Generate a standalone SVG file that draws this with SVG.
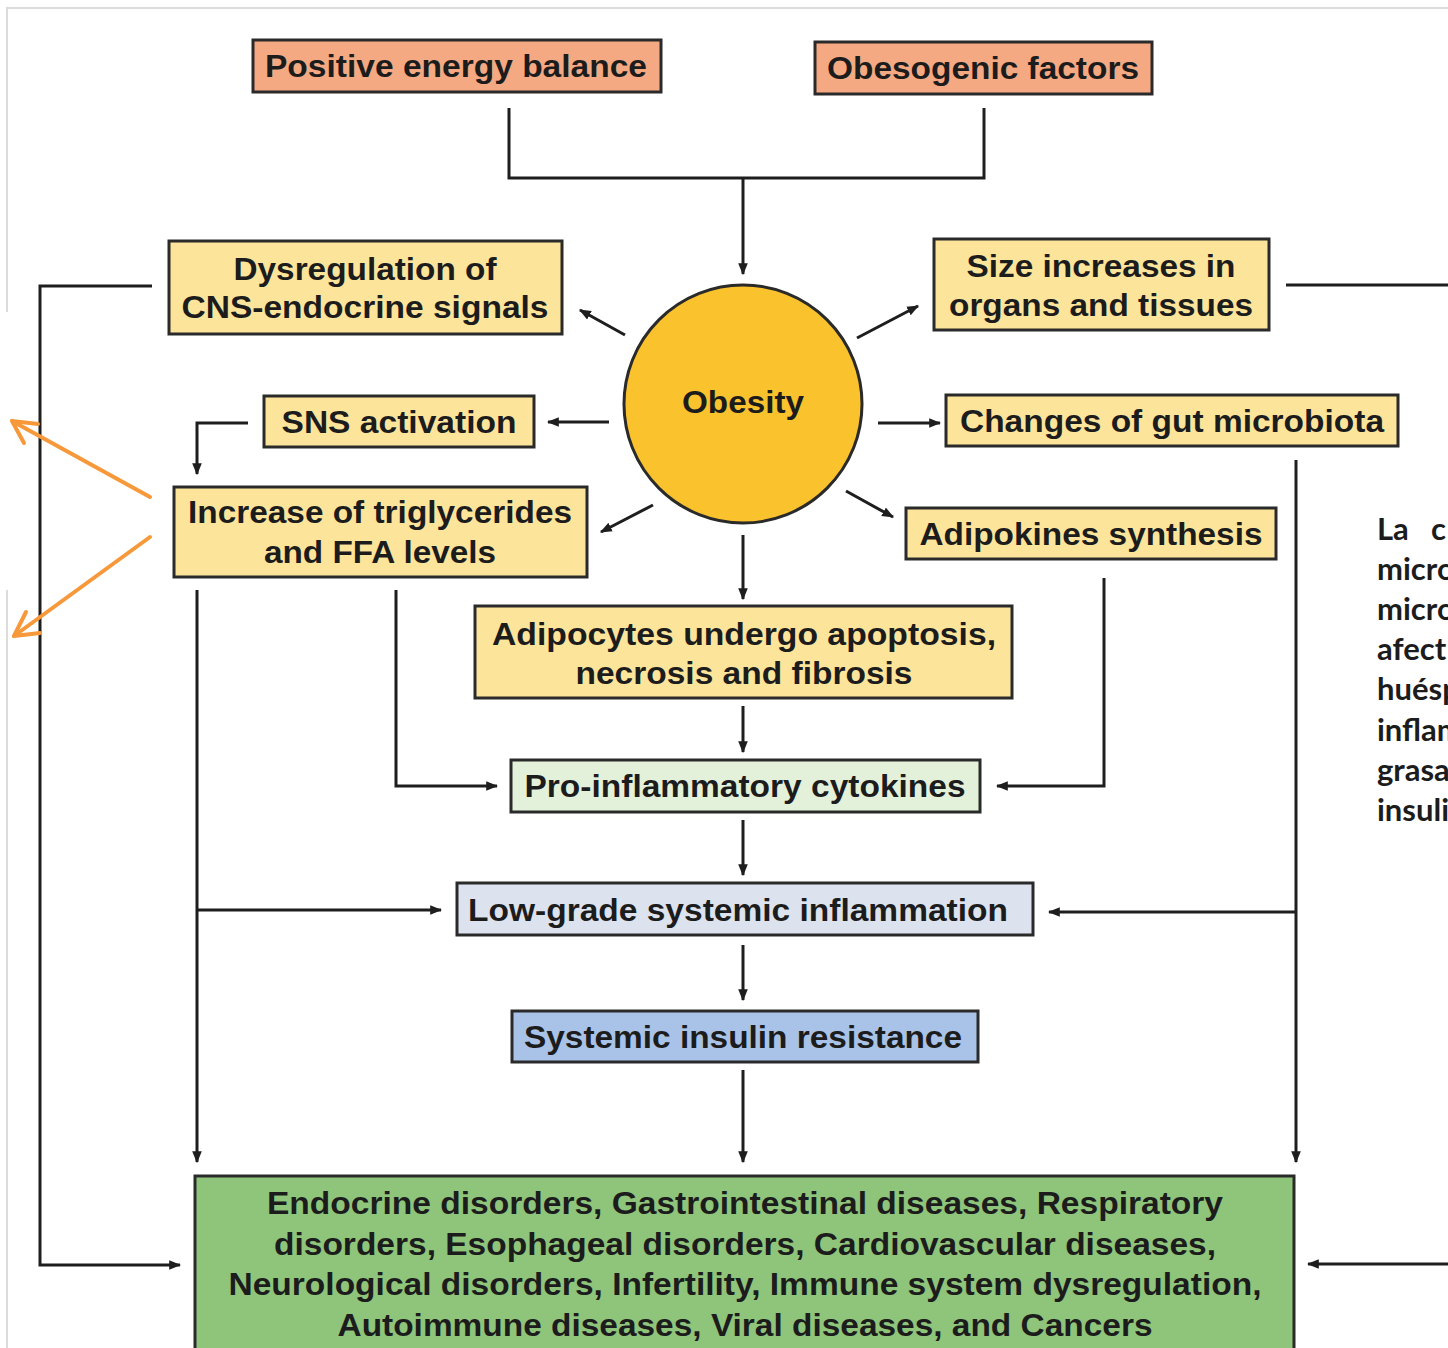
<svg xmlns="http://www.w3.org/2000/svg" width="1448" height="1348" viewBox="0 0 1448 1348">
<style>
.box{stroke:#2a2a2a;stroke-width:3}
.t{font-family:"Liberation Sans",Arial,sans-serif;font-weight:bold;font-size:32px;fill:#1c1c1c;text-anchor:middle}
.b{font-size:31px}
.c{fill:none;stroke:#1e1e1e;stroke-width:3}
.o{fill:none;stroke:#F7993A;stroke-width:4;stroke-linecap:round;stroke-linejoin:round}
.es{font-family:Lato,"Open Sans",sans-serif;font-weight:bold;font-size:31px;fill:#1c1c1c}
</style>
<defs>
<marker id="ah" viewBox="0 0 10 10" refX="9" refY="5" markerWidth="4" markerHeight="4" orient="auto" markerUnits="strokeWidth">
<path d="M0,1 L10,5 L0,9 z" fill="#1e1e1e"/>
</marker>
</defs>
<rect width="1448" height="1348" fill="#ffffff"/>
<g id="frame" stroke="#dcdcdc" stroke-width="2" fill="none">
<path d="M7,312 L7,8 L1448,8"/>
<path d="M7,590 L7,1348"/>
</g>

<g id="connectors">
<path class="c" d="M509,108 L509,178 L984,178 L984,108"/>
<path class="c" d="M743,178 L743,274" marker-end="url(#ah)"/>
<path class="c" d="M625,335 L580,310" marker-end="url(#ah)"/>
<path class="c" d="M857,338 L918,306" marker-end="url(#ah)"/>
<path class="c" d="M609,422 L548,422" marker-end="url(#ah)"/>
<path class="c" d="M878,423 L940,423" marker-end="url(#ah)"/>
<path class="c" d="M653,505 L601,532" marker-end="url(#ah)"/>
<path class="c" d="M846,491 L893,517" marker-end="url(#ah)"/>
<path class="c" d="M743,535 L743,599" marker-end="url(#ah)"/>
<path class="c" d="M248,423 L197,423 L197,474" marker-end="url(#ah)"/>
<path class="c" d="M743,706 L743,752" marker-end="url(#ah)"/>
<path class="c" d="M396,590 L396,786 L497,786" marker-end="url(#ah)"/>
<path class="c" d="M1104,578 L1104,786 L997,786" marker-end="url(#ah)"/>
<path class="c" d="M743,820 L743,875" marker-end="url(#ah)"/>
<path class="c" d="M197,590 L197,1162" marker-end="url(#ah)"/>
<path class="c" d="M197,910 L441,910" marker-end="url(#ah)"/>
<path class="c" d="M1296,460 L1296,1162" marker-end="url(#ah)"/>
<path class="c" d="M1296,912 L1049,912" marker-end="url(#ah)"/>
<path class="c" d="M743,945 L743,1000" marker-end="url(#ah)"/>
<path class="c" d="M743,1070 L743,1162" marker-end="url(#ah)"/>
<path class="c" d="M152,286 L40,286 L40,1265 L180,1265" marker-end="url(#ah)"/>
<path class="c" d="M1286,285 L1448,285"/>
<path class="c" d="M1448,1264 L1308,1264" marker-end="url(#ah)"/>
</g>

<g id="annotation-arrows">
<path class="o" d="M150,497 L12,421"/>
<path class="o" d="M12,421 L38,424 M12,421 L24,443"/>
<path class="o" d="M150,537 L14,636"/>
<path class="o" d="M14,636 L26,612 M14,636 L40,633"/>
</g>

<g id="positive-energy-balance">
<rect class="box" x="253" y="40" width="408" height="52" fill="#F5A982"/>
<text class="t" x="456" y="77" textLength="382" lengthAdjust="spacingAndGlyphs">Positive energy balance</text>
</g>
<g id="obesogenic-factors">
<rect class="box" x="815" y="42" width="337" height="52" fill="#F5A982"/>
<text class="t" x="983" y="79" textLength="312" lengthAdjust="spacingAndGlyphs">Obesogenic factors</text>
</g>
<g id="dysregulation">
<rect class="box" x="169" y="241" width="393" height="93" fill="#FDE49B"/>
<text class="t" x="365" y="280" textLength="263" lengthAdjust="spacingAndGlyphs">Dysregulation of</text>
<text class="t" x="365" y="318" textLength="367" lengthAdjust="spacingAndGlyphs">CNS-endocrine signals</text>
</g>
<g id="size-increases">
<rect class="box" x="934" y="239" width="335" height="91" fill="#FDE49B"/>
<text class="t" x="1101" y="277" textLength="269" lengthAdjust="spacingAndGlyphs">Size increases in</text>
<text class="t" x="1101" y="316" textLength="304" lengthAdjust="spacingAndGlyphs">organs and tissues</text>
</g>
<g id="obesity">
<circle cx="743" cy="404" r="119" fill="#FAC22C" stroke="#2a2a2a" stroke-width="3"/>
<text class="t" x="743" y="413" font-size="30" textLength="122" lengthAdjust="spacingAndGlyphs">Obesity</text>
</g>
<g id="sns-activation">
<rect class="box" x="264" y="396" width="270" height="51" fill="#FDE49B"/>
<text class="t" x="399" y="433" textLength="235" lengthAdjust="spacingAndGlyphs">SNS activation</text>
</g>
<g id="gut-microbiota">
<rect class="box" x="946" y="395" width="452" height="51" fill="#FDE49B"/>
<text class="t" x="1172" y="432" textLength="424" lengthAdjust="spacingAndGlyphs">Changes of gut microbiota</text>
</g>
<g id="triglycerides">
<rect class="box" x="174" y="487" width="413" height="90" fill="#FDE49B"/>
<text class="t" x="380" y="523" textLength="384" lengthAdjust="spacingAndGlyphs">Increase of triglycerides</text>
<text class="t" x="380" y="563" textLength="232" lengthAdjust="spacingAndGlyphs">and FFA levels</text>
</g>
<g id="adipokines">
<rect class="box" x="906" y="508" width="370" height="51" fill="#FDE49B"/>
<text class="t" x="1091" y="545" textLength="343" lengthAdjust="spacingAndGlyphs">Adipokines synthesis</text>
</g>
<g id="adipocytes">
<rect class="box" x="475" y="606" width="537" height="92" fill="#FDE49B"/>
<text class="t" x="744" y="645" textLength="504" lengthAdjust="spacingAndGlyphs">Adipocytes undergo apoptosis,</text>
<text class="t" x="744" y="684" textLength="337" lengthAdjust="spacingAndGlyphs">necrosis and fibrosis</text>
</g>
<g id="cytokines">
<rect class="box" x="511" y="760" width="469" height="52" fill="#E4F1DA"/>
<text class="t" x="745" y="797" textLength="441" lengthAdjust="spacingAndGlyphs">Pro-inflammatory cytokines</text>
</g>
<g id="inflammation">
<rect class="box" x="457" y="883" width="576" height="52" fill="#DDE3EE"/>
<text class="t" x="738" y="921" textLength="540" lengthAdjust="spacingAndGlyphs">Low-grade systemic inflammation</text>
</g>
<g id="insulin-resistance">
<rect class="box" x="512" y="1011" width="466" height="51" fill="#A9C3E8"/>
<text class="t" x="743" y="1048" textLength="438" lengthAdjust="spacingAndGlyphs">Systemic insulin resistance</text>
</g>
<g id="diseases">
<rect class="box" x="195" y="1176" width="1099" height="180" fill="#8FC47B"/>
<text class="t b" x="745" y="1214" textLength="956" lengthAdjust="spacingAndGlyphs">Endocrine disorders, Gastrointestinal diseases, Respiratory</text>
<text class="t b" x="745" y="1255" textLength="942" lengthAdjust="spacingAndGlyphs">disorders, Esophageal disorders, Cardiovascular diseases,</text>
<text class="t b" x="745" y="1295" textLength="1033" lengthAdjust="spacingAndGlyphs">Neurological disorders, Infertility, Immune system dysregulation,</text>
<text class="t b" x="745" y="1336" textLength="815" lengthAdjust="spacingAndGlyphs">Autoimmune diseases, Viral diseases, and Cancers</text>
</g>

<g id="side-text">
<text class="es" x="1377" y="540">La</text>
<text class="es" x="1431" y="540">c</text>
<text class="es" x="1377" y="580">micro</text>
<text class="es" x="1377" y="620">micro</text>
<text class="es" x="1377" y="660">afect</text>
<text class="es" x="1377" y="700">huésp</text>
<text class="es" x="1377" y="741">inflam</text>
<text class="es" x="1377" y="781">grasa</text>
<text class="es" x="1377" y="821">insuli</text>
</g>
</svg>
